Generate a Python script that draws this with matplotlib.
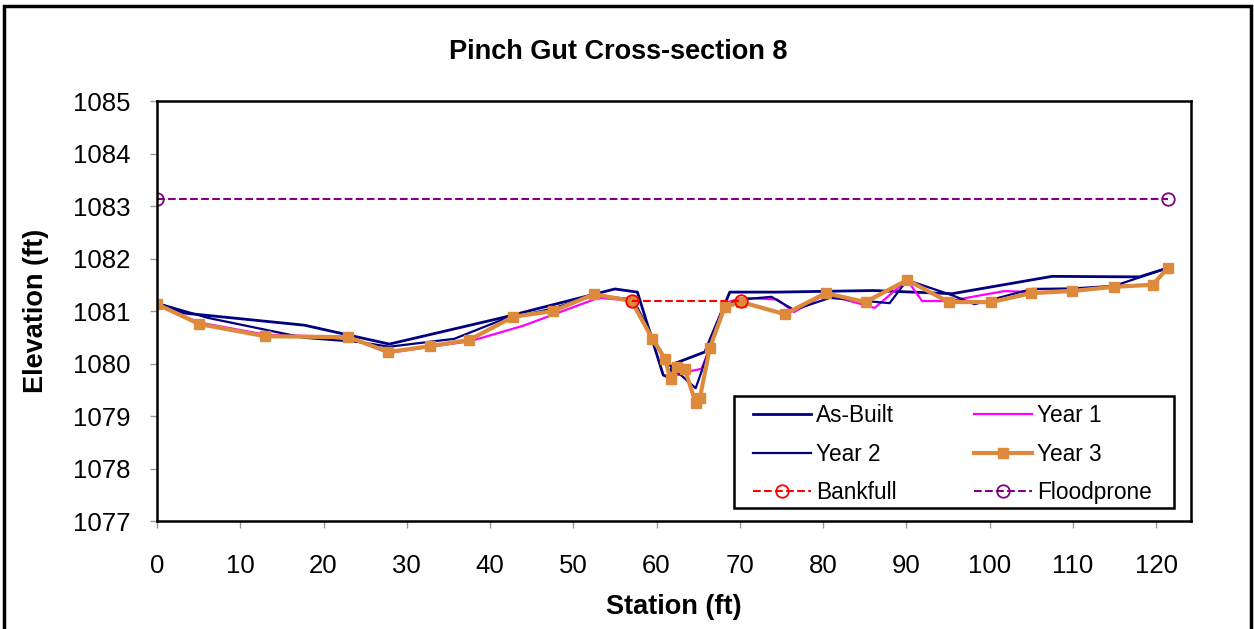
import matplotlib.pyplot as plt
from matplotlib.patches import Rectangle

plt.rcParams['font.family'] = ['Liberation Sans', 'DejaVu Sans']

# cross-section survey data (station ft, elevation ft)
asbuilt_x = [0, 3.3, 17.7, 27.9, 41.4, 55.0, 57.7, 60.8, 61.4, 62.0, 65.8, 68.8, 74.5, 86.0, 95.5, 107.5, 118.0, 121.4]
asbuilt_y = [1081.15, 1080.96, 1080.73, 1080.37, 1080.87, 1081.42, 1081.36, 1079.78, 1079.74, 1079.99, 1080.22,
             1081.36, 1081.36, 1081.39, 1081.33, 1081.66, 1081.65, 1081.82]

year1_x = [0, 2.5, 5.1, 13.0, 23.0, 27.8, 32.8, 37.5, 44.0, 53.0, 57.0, 59.5, 61.0, 62.6, 64.2, 65.4, 66.4, 68.2,
           70.2, 74.5, 76.5, 80.3, 86.2, 90.1, 91.9, 95.1, 101.8, 105.0, 110.0, 115.0, 119.6, 121.4]
year1_y = [1081.13, 1080.95, 1080.78, 1080.55, 1080.50, 1080.20, 1080.32, 1080.42, 1080.72, 1081.25, 1081.20,
           1080.47, 1080.09, 1079.78, 1079.86, 1079.90, 1080.30, 1081.15, 1081.25, 1081.22, 1080.98, 1081.32,
           1081.06, 1081.59, 1081.19, 1081.19, 1081.38, 1081.36, 1081.38, 1081.48, 1081.50, 1081.82]

year2_x = [0, 6.1, 17.7, 24.2, 27.9, 35.7, 41.4, 47.6, 52.5, 57.2, 59.7, 61.5, 64.7, 66.4, 68.3, 70.2, 73.8, 76.5,
           80.8, 88.0, 90.1, 95.5, 98.2, 105.1, 110.0, 115.0, 121.4]
year2_y = [1081.15, 1080.87, 1080.49, 1080.41, 1080.32, 1080.47, 1080.83, 1081.05, 1081.30, 1081.22, 1080.45,
           1079.98, 1079.53, 1080.30, 1081.10, 1081.22, 1081.27, 1081.02, 1081.25, 1081.15, 1081.59, 1081.30,
           1081.13, 1081.42, 1081.43, 1081.48, 1081.82]

year3_x = [0, 5.1, 13.0, 23.0, 27.8, 32.8, 37.5, 42.8, 47.6, 52.5, 57.0, 59.5, 61.0, 61.7, 62.5, 63.4, 64.7, 65.2,
           66.4, 68.2, 70.2, 75.4, 80.3, 85.1, 90.1, 95.1, 100.2, 105.0, 109.9, 114.9, 119.6, 121.4]
year3_y = [1081.13, 1080.75, 1080.52, 1080.50, 1080.22, 1080.33, 1080.45, 1080.89, 1081.00, 1081.32, 1081.19,
           1080.47, 1080.09, 1079.70, 1079.93, 1079.89, 1079.25, 1079.34, 1080.30, 1081.08, 1081.17, 1080.94,
           1081.34, 1081.17, 1081.59, 1081.17, 1081.17, 1081.34, 1081.38, 1081.46, 1081.50, 1081.82]

bankfull_x = [57.0, 70.2]
bankfull_y = [1081.19, 1081.19]
floodprone_x = [0, 121.4]
floodprone_y = [1083.13, 1083.13]

fig = plt.figure(figsize=(12.54, 6.29), dpi=100)
# black frame round the whole chart (bottom edge runs off the image)
fig.patches.append(Rectangle((0.003, -0.02), 0.995, 1.0105, transform=fig.transFigure, fill=False,
                             edgecolor='black', linewidth=2.5))

ax = fig.add_axes([0.1252, 0.1717, 0.8246, 0.6677])

l_ab, = ax.plot(asbuilt_x, asbuilt_y, color='#000080', linewidth=2, label='As-Built')
l_y1, = ax.plot(year1_x, year1_y, color='#FF00FF', linewidth=1.6, label='Year 1')
l_y2, = ax.plot(year2_x, year2_y, color='#000080', linewidth=1.6, label='Year 2')
l_y3, = ax.plot(year3_x, year3_y, color='#DE8A3C', linewidth=3, marker='s', markersize=6.5, label='Year 3')
l_bf, = ax.plot(bankfull_x, bankfull_y, color='#FF0000', linestyle='--', linewidth=1.5, marker='o',
                markersize=9, markerfacecolor='none', markeredgewidth=1.3, label='Bankfull')
l_fp, = ax.plot(floodprone_x, floodprone_y, color='#800080', linestyle='--', linewidth=1.5, marker='o',
                markersize=9, markerfacecolor='none', markeredgewidth=1.3, label='Floodprone')

ax.set_xlim(0, 124.2)
ax.set_ylim(1077, 1085)
ax.set_xticks(range(0, 121, 10))
ax.set_yticks(range(1077, 1086))

for s in ax.spines.values():
    s.set_linewidth(1.8)
    s.set_color('black')
ax.tick_params(axis='both', length=5, width=1, color='#999999', labelsize=18.5)
ax.tick_params(axis='y', pad=14)
ax.tick_params(axis='x', pad=19)

ax.set_xlabel('Station (ft)', fontsize=19.5, fontweight='bold')
ax.set_ylabel('Elevation (ft)', fontsize=19.5, fontweight='bold')
ax.xaxis.set_label_coords(0.5, -0.175)
ax.yaxis.set_label_coords(-0.1045, 0.5)
fig.text(0.493, 0.918, 'Pinch Gut Cross-section 8', ha='center', va='center', fontsize=19.5,
         fontweight='bold')

# legend filled row by row: column order is As-Built, Year 2, Bankfull | Year 1, Year 3, Floodprone
handles = [l_ab, l_y2, l_bf, l_y1, l_y3, l_fp]
leg = ax.legend(handles=handles, labels=[h.get_label() for h in handles], ncol=2, loc='lower right',
                bbox_to_anchor=(0.970, 0.0215), borderaxespad=0, fontsize=16.3, frameon=False,
                handlelength=2.55, handletextpad=0.25, columnspacing=3.4, labelspacing=0.68,
                borderpad=0.35)
# legend box drawn separately so it gets wider side margins than top/bottom
ax.add_patch(Rectangle((0.558, 0.031), 0.4256, 0.2667, transform=ax.transAxes, fill=False,
                       edgecolor='black', linewidth=1.8, zorder=4.9))
ax.add_patch(Rectangle((0.558, 0.031), 0.4256, 0.2667, transform=ax.transAxes, facecolor='white',
                       edgecolor='none', zorder=4.8))

fig.savefig('out.png', dpi=100)
